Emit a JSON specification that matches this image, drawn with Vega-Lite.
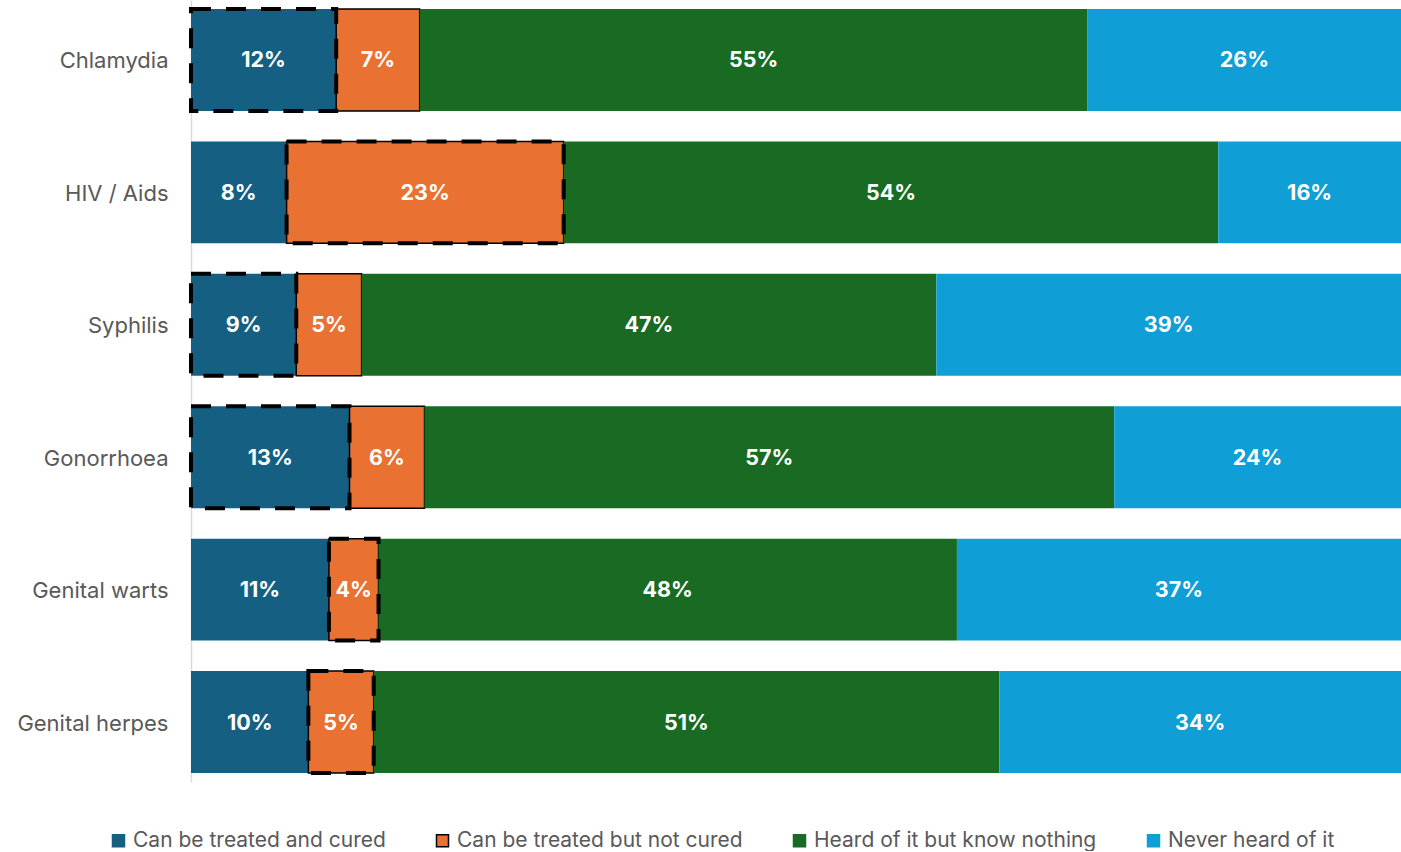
{
  "$schema": "https://vega.github.io/schema/vega-lite/v6.json",
  "width": 1210,
  "height": 782,
  "padding": {"left": 0, "top": 0, "right": 0, "bottom": 0},
  "autosize": {"type": "pad"},
  "background": "white",
  "config": {"view": {"stroke": null}, "font": "Inter"},
  "data": {
    "values": [
      {"disease": "Chlamydia", "answer": "Can be treated and cured", "order": 1, "value": 12.0, "label": "12%", "correct": true},
      {"disease": "Chlamydia", "answer": "Can be treated but not cured", "order": 2, "value": 6.9, "label": "7%", "correct": false},
      {"disease": "Chlamydia", "answer": "Heard of it but know nothing", "order": 3, "value": 55.2, "label": "55%", "correct": false},
      {"disease": "Chlamydia", "answer": "Never heard of it", "order": 4, "value": 25.9, "label": "26%", "correct": false},
      {"disease": "HIV / Aids", "answer": "Can be treated and cured", "order": 1, "value": 7.9, "label": "8%", "correct": false},
      {"disease": "HIV / Aids", "answer": "Can be treated but not cured", "order": 2, "value": 22.9, "label": "23%", "correct": true},
      {"disease": "HIV / Aids", "answer": "Heard of it but know nothing", "order": 3, "value": 54.1, "label": "54%", "correct": false},
      {"disease": "HIV / Aids", "answer": "Never heard of it", "order": 4, "value": 15.1, "label": "16%", "correct": false},
      {"disease": "Syphilis", "answer": "Can be treated and cured", "order": 1, "value": 8.7, "label": "9%", "correct": true},
      {"disease": "Syphilis", "answer": "Can be treated but not cured", "order": 2, "value": 5.4, "label": "5%", "correct": false},
      {"disease": "Syphilis", "answer": "Heard of it but know nothing", "order": 3, "value": 47.5, "label": "47%", "correct": false},
      {"disease": "Syphilis", "answer": "Never heard of it", "order": 4, "value": 38.4, "label": "39%", "correct": false},
      {"disease": "Gonorrhoea", "answer": "Can be treated and cured", "order": 1, "value": 13.1, "label": "13%", "correct": true},
      {"disease": "Gonorrhoea", "answer": "Can be treated but not cured", "order": 2, "value": 6.2, "label": "6%", "correct": false},
      {"disease": "Gonorrhoea", "answer": "Heard of it but know nothing", "order": 3, "value": 57.0, "label": "57%", "correct": false},
      {"disease": "Gonorrhoea", "answer": "Never heard of it", "order": 4, "value": 23.7, "label": "24%", "correct": false},
      {"disease": "Genital warts", "answer": "Can be treated and cured", "order": 1, "value": 11.4, "label": "11%", "correct": false},
      {"disease": "Genital warts", "answer": "Can be treated but not cured", "order": 2, "value": 4.1, "label": "4%", "correct": true},
      {"disease": "Genital warts", "answer": "Heard of it but know nothing", "order": 3, "value": 47.8, "label": "48%", "correct": false},
      {"disease": "Genital warts", "answer": "Never heard of it", "order": 4, "value": 36.7, "label": "37%", "correct": false},
      {"disease": "Genital herpes", "answer": "Can be treated and cured", "order": 1, "value": 9.7, "label": "10%", "correct": false},
      {"disease": "Genital herpes", "answer": "Can be treated but not cured", "order": 2, "value": 5.4, "label": "5%", "correct": true},
      {"disease": "Genital herpes", "answer": "Heard of it but know nothing", "order": 3, "value": 51.7, "label": "51%", "correct": false},
      {"disease": "Genital herpes", "answer": "Never heard of it", "order": 4, "value": 33.2, "label": "34%", "correct": false}
    ]
  },
  "transform": [
    {"stack": "value", "groupby": ["disease"], "sort": [{"field": "order", "order": "ascending"}], "offset": "normalize", "as": ["x0", "x1"]},
    {"calculate": "(datum.x0 + datum.x1) / 2", "as": "xm"}
  ],
  "encoding": {
    "y": {
      "field": "disease",
      "type": "nominal",
      "sort": ["Chlamydia", "HIV / Aids", "Syphilis", "Gonorrhoea", "Genital warts", "Genital herpes"],
      "scale": {"paddingInner": 0.23, "paddingOuter": 0.068},
      "axis": {
        "title": null,
        "ticks": false,
        "tickSize": 0,
        "labelPadding": 23,
        "labelFontSize": 22,
        "labelColor": "#595959",
        "labelFont": "Inter",
        "labelOffset": 1.5,
        "labelLimit": 0,
        "domain": true,
        "domainColor": "#d9d9d9",
        "domainWidth": 1.5,
        "grid": false,
        "minExtent": 191,
        "maxExtent": 191
      }
    }
  },
  "layer": [
    {
      "mark": {"type": "bar"},
      "encoding": {
        "x": {"field": "x0", "type": "quantitative", "scale": {"domain": [0, 1]}, "axis": null},
        "x2": {"field": "x1"},
        "color": {
          "field": "answer",
          "type": "nominal",
          "scale": {
            "domain": ["Can be treated and cured", "Can be treated but not cured", "Heard of it but know nothing", "Never heard of it"],
            "range": ["#156082", "#E97132", "#196B24", "#0F9ED5"]
          },
          "legend": {
            "title": null,
            "orient": "none",
            "direction": "horizontal",
            "legendX": -83,
            "legendY": 830,
            "symbolType": "square",
            "symbolSize": 144,
            "symbolStrokeWidth": 1.5,
            "symbolOpacity": 1,
            "labelFontSize": 21,
            "labelColor": "#595959",
            "labelFont": "Inter",
            "labelOffset": 4,
            "labelLimit": 0,
            "columnPadding": 46
          }
        },
        "stroke": {
          "field": "answer",
          "type": "nominal",
          "scale": {
            "domain": ["Can be treated and cured", "Can be treated but not cured", "Heard of it but know nothing", "Never heard of it"],
            "range": ["#156082", "#000000", "#196B24", "#0F9ED5"]
          },
          "legend": {
            "title": null,
            "orient": "none",
            "direction": "horizontal",
            "legendX": -83,
            "legendY": 830,
            "symbolType": "square",
            "symbolSize": 144,
            "symbolStrokeWidth": 1.5,
            "symbolOpacity": 1,
            "labelFontSize": 21,
            "labelColor": "#595959",
            "labelFont": "Inter",
            "labelOffset": 4,
            "labelLimit": 0,
            "columnPadding": 46
          }
        },
        "strokeWidth": {
          "condition": {"test": "datum.order == 2", "value": 1.5},
          "value": 0
        }
      }
    },
    {
      "transform": [{"filter": "datum.correct"}],
      "mark": {"type": "bar", "fill": "transparent", "stroke": "#000000", "strokeWidth": 4, "strokeDash": [20, 15]},
      "encoding": {
        "x": {"field": "x0", "type": "quantitative"},
        "x2": {"field": "x1"}
      }
    },
    {
      "mark": {"type": "text", "color": "white", "fontWeight": "bold", "fontSize": 21.5, "font": "Inter", "align": "center", "baseline": "middle", "dy": 1.5},
      "encoding": {
        "x": {"field": "xm", "type": "quantitative"},
        "text": {"field": "label"}
      }
    }
  ]
}
